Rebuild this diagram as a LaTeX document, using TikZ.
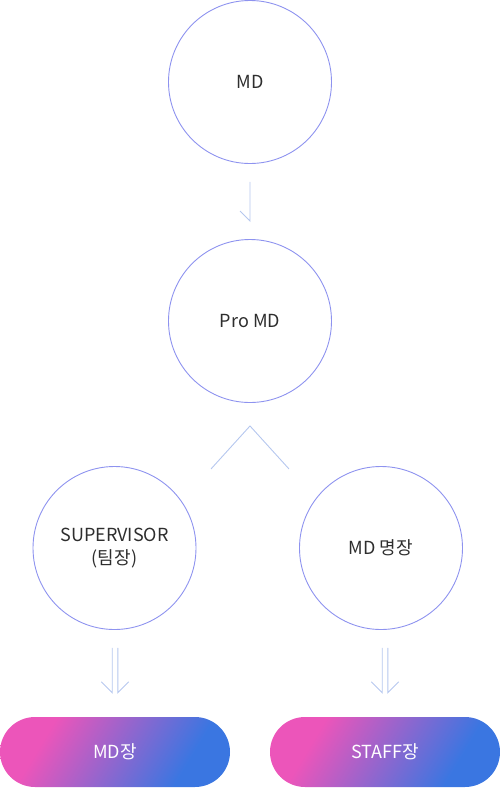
\documentclass[tikz,border=0pt]{standalone}
\usepackage{fontspec}
\setmainfont{Noto Sans CJK KR}
\usetikzlibrary{calc}
\definecolor{ringc}{HTML}{8E93EF}
\definecolor{linkc}{HTML}{B5C7EE}
\definecolor{txtc}{HTML}{2E2E2E}
\definecolor{pinkc}{HTML}{EC55BA}
\definecolor{bluec}{HTML}{3A76E1}
\pgfdeclarehorizontalshading{pillshade}{100bp}{color(0bp)=(pinkc); color(30bp)=(pinkc); color(70bp)=(bluec); color(100bp)=(bluec)}
\begin{document}
\begin{tikzpicture}[x=1pt,y=-1pt,
  ring/.style={circle,draw=ringc,line width=0.9pt,minimum size=163pt,inner sep=0pt,
    text=txtc,font=\fontsize{18}{23}\selectfont,align=center},
  link/.style={draw=linkc,line width=0.9pt},
  pill/.style={rectangle,rounded corners=35pt,minimum width=230pt,minimum height=70pt,
    inner sep=0pt,shading=pillshade,shading angle=-31,
    text=white,font=\fontsize{18}{20}\selectfont}]
\useasboundingbox (0,0) rectangle (501,788);
\node[ring] (md) at (250,82) {MD};
\node[ring] (pro) at (250,321) {Pro MD};
\node[ring] (sup) at (114.5,548) {SUPERVISOR\\(팀장)};
\node[ring] (mdm) at (381,548) {MD 명장};
\node[pill] (mdj) at (115,752) {MD장};
\node[pill] (stj) at (385,752) {STAFF장};
% single arrow MD -> Pro MD
\coordinate (a1s) at ($(md.south)+(0,18)$);
\coordinate (a1e) at ($(pro.north)+(0,-18)$);
\draw[link] (a1s) -- (a1e) -- ++(-10,-10);
% chevron
\coordinate (cha) at ($(pro.south)+(0,23)$);
\draw[link] ($(cha)+(-39,43)$) -- (cha) -- ($(cha)+(39,43)$);
% double arrows
\foreach \s/\t in {sup/mdj,mdm/stj}{
  \coordinate (\s-top) at (\t.center |- {$(\s.south)+(0,18)$});
  \coordinate (\s-bot) at ($(\t.north)+(0,-24)$);
  \draw[link] ($(\s-top)+(-2.8,0)$) -- ($(\s-bot)+(-2.8,0)$) -- ++(-11,-11);
  \draw[link] ($(\s-top)+(2.8,0)$) -- ($(\s-bot)+(2.8,0)$) -- ++(11,-11);
}
\end{tikzpicture}
\end{document}
